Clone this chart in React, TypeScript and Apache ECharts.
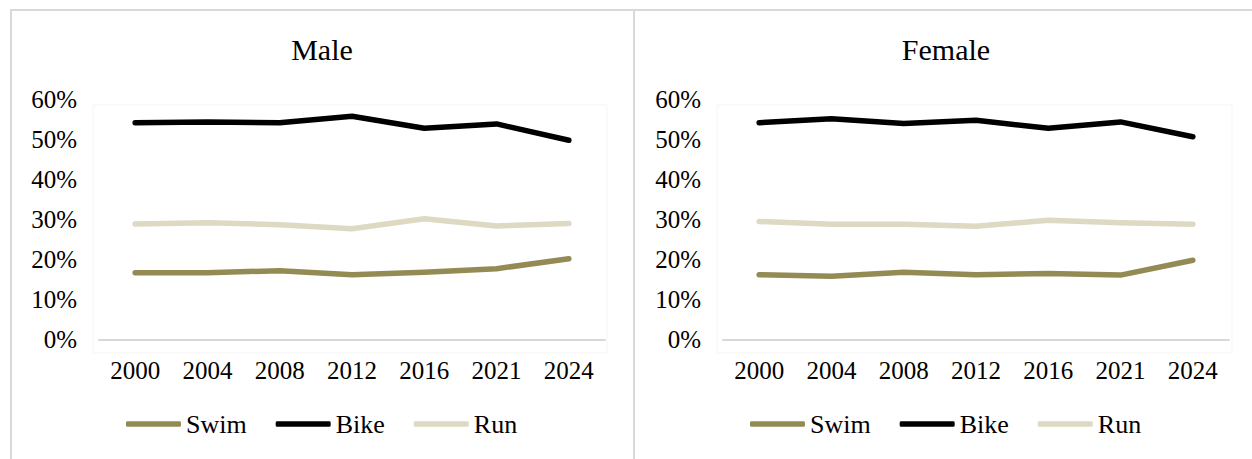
import React, { useEffect, useRef } from "react";
import * as echarts from "echarts";

// Olympic years on the category axis
const years = ["2000", "2004", "2008", "2012", "2016", "2021", "2024"];

// Share of total finishing time per discipline (%), male
const swimMale = [16.7, 16.7, 17.2, 16.2, 16.8, 17.7, 20.2];
const bikeMale = [54.2, 54.4, 54.2, 55.8, 52.8, 53.9, 49.8];
const runMale = [28.9, 29.2, 28.7, 27.7, 30.2, 28.4, 29.0];

// Share of total finishing time per discipline (%), female
const swimFemale = [16.2, 15.8, 16.8, 16.2, 16.5, 16.1, 19.8];
const bikeFemale = [54.2, 55.2, 54.0, 54.8, 52.8, 54.4, 50.7];
const runFemale = [29.5, 28.8, 28.8, 28.3, 29.8, 29.2, 28.8];

const yTicks = { min: 0, max: 60, interval: 10 };
const panelTitles = ["Male", "Female"];
const disciplines = ["Swim", "Bike", "Run"];

const COLORS: Record<string, string> = {
  Swim: "#948A54",
  Bike: "#000000",
  Run: "#DDD9C3",
};

const FONT = "'Liberation Serif', 'Times New Roman', serif";
const BORDER = "#D9D9D9";

export default function App() {
  const ref = useRef<HTMLDivElement>(null);

  useEffect(() => {
    document.body.style.margin = "0";
    if (!ref.current) return;
    const chart = echarts.init(ref.current, undefined, { renderer: "svg" });

    const grids = [
      { left: 99, top: 99.5, width: 506, height: 240 },
      { left: 723, top: 99.5, width: 506, height: 240 },
    ];
    const panelCenters = [322, 946];
    const legendLefts = [126, 750];

    const mkSeries = (name: string, data: number[], idx: number) => ({
      name,
      type: "line",
      xAxisIndex: idx,
      yAxisIndex: idx,
      data,
      symbol: "none",
      lineStyle: { color: COLORS[name], width: 5.5, cap: "round", join: "round" },
      itemStyle: { color: COLORS[name] },
    });

    const option = {
      animation: false,
      backgroundColor: "#FFFFFF",
      textStyle: { fontFamily: FONT, color: "#000" },
      title: panelTitles.map((t, i) => ({
        text: t,
        left: panelCenters[i],
        top: 34,
        padding: 0,
        textAlign: "center",
        textStyle: { fontFamily: FONT, fontSize: 30, fontWeight: "normal", color: "#000" },
      })),
      grid: grids.map((g) => ({ ...g, containLabel: false })),
      xAxis: grids.map((_, i) => ({
        type: "category",
        gridIndex: i,
        data: years,
        boundaryGap: true,
        axisLine: { show: true, lineStyle: { color: BORDER, width: 2 } },
        axisTick: { show: false },
        axisLabel: { fontFamily: FONT, fontSize: 25, color: "#000", margin: 18 },
        splitLine: { show: false },
      })),
      yAxis: grids.map((_, i) => ({
        type: "value",
        gridIndex: i,
        min: yTicks.min,
        max: yTicks.max,
        interval: yTicks.interval,
        axisLine: { show: false },
        axisTick: { show: false },
        splitLine: { show: false },
        axisLabel: {
          fontFamily: FONT,
          fontSize: 25,
          color: "#000",
          margin: 22,
          formatter: "{value}%",
        },
      })),
      legend: legendLefts.map((l) => ({
        left: l,
        top: 411,
        padding: 0,
        data: disciplines,
        icon: "roundRect",
        itemWidth: 55,
        itemHeight: 5.5,
        itemGap: 29,
        textStyle: { fontFamily: FONT, fontSize: 26, color: "#000" },
        selectedMode: false,
      })),
      graphic: [
        // faint plot-area frames
        { type: "rect", shape: { x: 93, y: 105, width: 514, height: 248 }, style: { fill: "none", stroke: "#F9F9F9", lineWidth: 1.5 }, silent: true, z: -1 },
        { type: "rect", shape: { x: 717, y: 105, width: 515, height: 248 }, style: { fill: "none", stroke: "#F9F9F9", lineWidth: 1.5 }, silent: true, z: -1 },
        // outer frame and panel divider
        { type: "line", shape: { x1: 10, y1: 10, x2: 1252, y2: 10 }, style: { stroke: BORDER, lineWidth: 2 }, silent: true },
        { type: "line", shape: { x1: 11, y1: 9, x2: 11, y2: 459 }, style: { stroke: BORDER, lineWidth: 2 }, silent: true },
        { type: "line", shape: { x1: 634, y1: 9, x2: 634, y2: 459 }, style: { stroke: BORDER, lineWidth: 2 }, silent: true },
      ],
      series: [
        mkSeries("Swim", swimMale, 0),
        mkSeries("Bike", bikeMale, 0),
        mkSeries("Run", runMale, 0),
        mkSeries("Swim", swimFemale, 1),
        mkSeries("Bike", bikeFemale, 1),
        mkSeries("Run", runFemale, 1),
      ],
    };

    chart.setOption(option as any);
    return () => chart.dispose();
  }, []);

  return (
    <div
      ref={ref}
      style={{ position: "fixed", left: 0, top: 0, width: 1252, height: 459 }}
    />
  );
}
